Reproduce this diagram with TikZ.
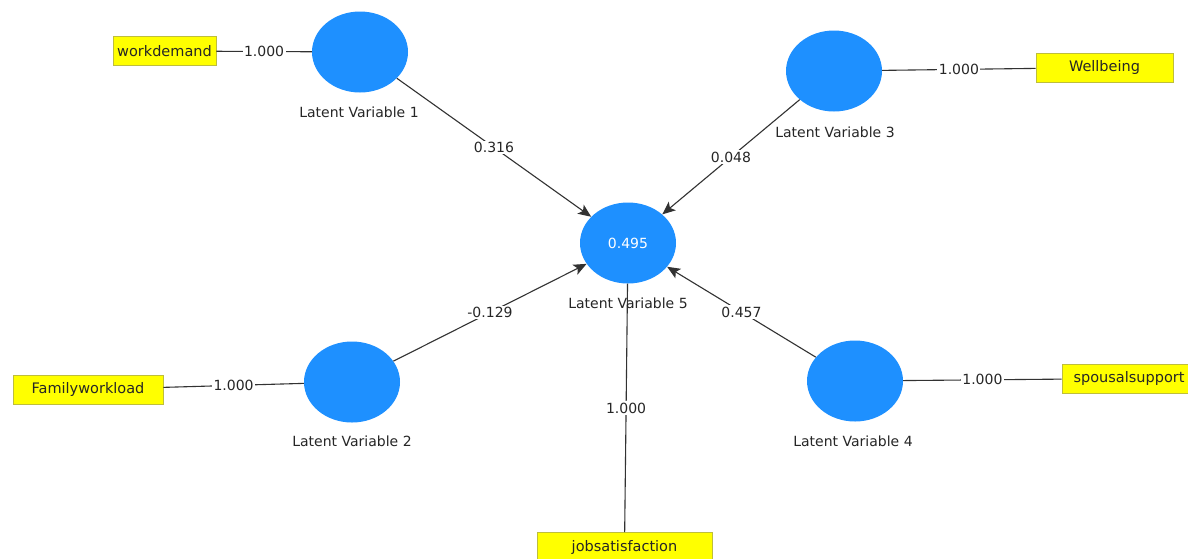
\documentclass[tikz,border=0pt]{standalone}
\usepackage{fontspec}
\setmainfont{DejaVu Sans}
\usetikzlibrary{shapes.geometric,arrows.meta}
\definecolor{lvblue}{RGB}{30,144,255}
\definecolor{indyellow}{RGB}{255,255,0}
\definecolor{indborder}{RGB}{190,190,60}
\definecolor{linkgray}{RGB}{50,50,50}
\begin{document}
\begin{tikzpicture}[x=1pt,y=-1pt,
  every node/.style={font=\fontsize{14}{16}\selectfont, text=black!85},
  latent/.style={ellipse, fill=lvblue, draw=none, minimum width=96pt, minimum height=81pt, inner sep=0pt},
  indicator/.style={rectangle, fill=indyellow, draw=indborder, line width=0.8pt, minimum height=29pt, inner sep=0pt, font=\fontsize{14.5}{16}\selectfont},
  lvname/.style={inner sep=1pt},
  link/.style={draw=linkgray, line width=1.1pt},
  path/.style={link, -{Stealth[length=13pt,width=11pt,inset=3pt]}},
  coef/.style={fill=white, inner sep=1.5pt}
]
\useasboundingbox (0,0) rectangle (1188,558);
\fill[white] (0,0) rectangle (1188,558);

% latent variables
\node[latent] (lv1) at (360,52) {};
\node[latent] (lv2) at (352,382) {};
\node[latent] (lv3) at (834,71) {};
\node[latent] (lv4) at (855,381) {};
\node[latent, text=white] (lv5) at (628,243) {0.495};

% indicators
\node[indicator, minimum width=103pt] (workdemand) at (164.5,51) {workdemand};
\node[indicator, minimum width=137pt] (wellbeing) at (1104.5,67.5) {Wellbeing};
\node[indicator, minimum width=150pt] (familyworkload) at (88,389.5) {Familyworkload};
\node[indicator, minimum width=134pt] (spousalsupport) at (1129,378.5) {spousalsupport};
\node[indicator, minimum width=175pt] (jobsatisfaction) at (624.5,547) {jobsatisfaction};

% outer loadings
\draw[link] (workdemand) -- node[coef] {1.000} (lv1);
\draw[link] (lv3) -- node[coef] {1.000} (wellbeing);
\draw[link] (familyworkload) -- node[coef] {1.000} (lv2);
\draw[link] (lv4) -- node[coef] {1.000} (spousalsupport);
\draw[link] (lv5) -- node[coef, pos=0.5] {1.000} (jobsatisfaction);

% structural paths
\draw[path] (lv1) -- node[coef] {0.316} (lv5);
\draw[path] (lv3) -- node[coef] {0.048} (lv5);
\draw[path] (lv2) -- node[coef] {-0.129} (lv5);
\draw[path] (lv4) -- node[coef] {0.457} (lv5);

% latent variable names
\node[lvname] (n1) at (359,112) {Latent Variable 1};
\node[lvname] (n2) at (352,441) {Latent Variable 2};
\node[lvname] (n3) at (835,132) {Latent Variable 3};
\node[lvname] (n4) at (853,441) {Latent Variable 4};
\node[lvname] (n5) at (628,303) {Latent Variable 5};
\end{tikzpicture}
\end{document}
